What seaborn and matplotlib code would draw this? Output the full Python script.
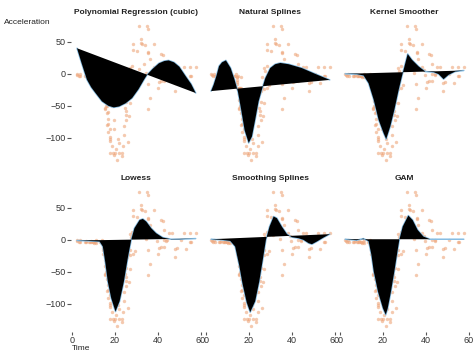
import matplotlib

matplotlib.use("Agg")
import matplotlib.pyplot as plt
import pandas as pd
import seaborn as sns

# motorcycle crash data (time in ms, head acceleration in g)
times = [
    2.4, 2.6, 3.2, 3.6, 4.0, 6.2, 6.6, 6.8, 7.8, 8.2, 8.8, 8.8, 9.6, 10.0, 10.2, 10.6, 11.0, 11.4, 13.2, 13.6,
    13.8, 14.6, 14.6, 14.6, 14.6, 14.6, 14.6, 14.8, 15.4, 15.4, 15.4, 15.4, 15.6, 15.6, 15.8, 15.8, 16.0, 16.0, 16.2, 16.2,
    16.2, 16.4, 16.4, 16.6, 16.8, 16.8, 16.8, 17.6, 17.6, 17.6, 17.6, 17.8, 17.8, 18.6, 18.6, 19.2, 19.4, 19.4, 19.6, 20.2,
    20.4, 21.2, 21.4, 21.8, 22.0, 23.2, 23.4, 24.0, 24.2, 24.2, 24.6, 25.0, 25.0, 25.4, 25.4, 25.6, 26.0, 26.2, 26.2, 26.4,
    27.0, 27.2, 27.2, 27.2, 27.6, 28.2, 28.4, 28.4, 28.6, 29.4, 30.2, 31.0, 31.2, 32.0, 32.0, 32.8, 33.4, 33.8, 34.4, 34.8,
    35.2, 35.2, 35.4, 35.6, 35.6, 36.2, 36.2, 38.0, 38.0, 39.2, 39.4, 40.0, 40.4, 41.6, 41.6, 42.4, 42.8, 42.8, 43.0, 44.0,
    44.4, 45.0, 46.6, 47.8, 47.8, 48.8, 50.6, 52.0, 53.2, 55.0, 55.0, 55.4, 57.6,
]
accel = [
    0.0, -1.3, -2.7, 0.0, -2.7, -2.7, -2.7, -1.3, -2.7, -2.7, -1.3, -2.7, -2.7, -2.7, -5.4, -2.7, -5.4, 0.0, -2.7, -2.7,
    0.0, -13.3, -5.4, -5.4, -9.3, -16.0, -22.8, -2.7, -22.8, -32.1, -53.5, -54.9, -40.2, -21.5, -21.5, -50.8, -42.9, -26.8, -21.5, -50.8,
    -61.7, -5.4, -80.4, -59.0, -71.0, -91.1, -77.7, -37.5, -85.6, -123.1, -101.9, -99.1, -104.4, -112.5, -50.8, -123.1, -85.6, -72.3, -127.2, -123.1,
    -117.9, -134.0, -101.9, -108.4, -123.1, -123.1, -128.5, -112.5, -95.1, -81.8, -53.5, -64.4, -57.6, -72.3, -44.3, -26.8, -5.4, -107.1, -21.5, -65.6,
    -16.0, -45.6, -24.2, 9.5, 4.0, 12.0, -21.5, 37.5, 46.9, -17.4, 36.2, 75.0, 8.1, 54.9, 48.2, 46.9, 16.0, 45.6, 1.3, 75.0,
    -16.0, -54.9, 69.6, 34.8, 32.1, -37.5, 22.8, 46.9, 10.7, 5.4, -1.3, -21.5, -13.3, 30.8, -10.7, 29.4, 0.0, -10.7, 14.7, -1.3,
    0.0, 10.7, 10.7, -26.8, -14.7, -13.3, 0.0, 10.7, -14.7, -2.7, 10.7, -2.7, 10.7,
]

# fitted curves
poly_t = [2.4, 4.5, 7.0, 9.0, 11.0, 14.0, 17.0, 19.5, 22.0, 25.0, 28.0, 31.0, 33.5, 35.0, 37.5, 40.5, 43.0, 45.0, 47.5, 50.0, 53.0, 55.5, 57.6]
poly_y = [40, 17, -9, -21, -30, -43, -50, -52.5, -51, -46, -38, -24, -9.5, -1.5, 7.5, 16.5, 20, 21, 18, 11, -4, -16, -30]

ns_t = [2.4, 3.6, 5.0, 6.1, 7.5, 9.3, 11.5, 13.3, 14.9, 16.4, 18.0, 19.9, 21.4, 22.9, 24.5, 26.0, 27.6, 29.9, 32.2, 34.6, 38.5, 44.6, 50.8, 57.6]
ns_y = [-27, -17, -2, 12, 18, 21, 9, -9, -28, -56, -88, -108, -98, -72, -43, -25, -7, 9, 15, 17, 15, 9, 0, -9.5]

ks_t = [2.4, 7.9, 11.0, 13.3, 15.7, 18.0, 20.3, 21.5, 23.4, 25.3, 27.3, 28.8, 29.6, 31.5, 33.5, 36.6, 39.7, 43.6, 45.9, 48.2, 50.5, 53.6, 57.6]
ks_y = [0, -0.5, -2.6, -14.6, -40.6, -72, -92.7, -102, -82, -56, -25, -4, 6.3, 31, 21.9, 11.5, 3.6, 2.6, -0.5, -8.3, -1.6, 3.6, 5.2]

lo_t = [2.4, 7.4, 12.9, 14.4, 15.5, 16.7, 18.3, 20.3, 22.2, 24.2, 26.0, 27.6, 29.1, 31.5, 33.0, 34.6, 36.9, 39.2, 42.3, 46.2, 50.0, 57.6]
lo_y = [-1, -1.6, -2.6, -10.4, -34, -65, -91, -112, -96, -65, -28.6, 0, 18.2, 31, 32.8, 28.6, 18.2, 10.4, 3.6, 1, 1, 2]

ss_t = [2.4, 7.4, 11.3, 13.6, 15.5, 17.0, 19.0, 20.6, 22.9, 24.8, 26.5, 27.9, 29.6, 31.5, 33.0, 35.3, 37.7, 40.0, 43.1, 45.4, 47.8, 49.3, 51.6, 54.7, 57.6]
ss_y = [1, 0, -1.6, -10.4, -40, -68, -98, -113, -96, -65, -30, 0, 20.8, 36.5, 33.9, 20.8, 8.9, 4.2, 2.6, 0, -5.2, -6.8, -2.6, 3.6, 8.9]

gam_t = [2.4, 7.8, 10.9, 13.3, 14.6, 15.7, 17.7, 20.0, 21.3, 22.2, 23.7, 25.3, 26.5, 27.6, 29.2, 31.8, 33.8, 36.1, 38.8, 41.9, 57.6]
gam_y = [1, -0.5, 2, -2, -23, -49, -81, -107, -117, -107, -81, -49, -23, 0, 20.8, 38, 31, 15.6, 5.2, 1, 1]

titles = ["Polynomial Regression (cubic)", "Natural Splines", "Kernel Smoother", "Lowess", "Smoothing Splines", "GAM"]
curves = [(poly_t, poly_y), (ns_t, ns_y), (ks_t, ks_y), (lo_t, lo_y), (ss_t, ss_y), (gam_t, gam_y)]
x_ticks = [0, 20, 40, 60]
y_ticks = [-100, -50, 0, 50]

sns.set_theme(style="white")
plt.rcParams["font.family"] = ["Liberation Sans", "DejaVu Sans"]

points = pd.DataFrame({"time": times, "accel": accel})

fig = plt.figure(figsize=(4.74, 3.55), dpi=100)
axes = fig.subplots(2, 3, sharex=True, sharey=True)
fig.subplots_adjust(left=0.150, right=0.991, top=0.946, bottom=0.064, wspace=0.027, hspace=0.129)

for i, ax in enumerate(axes.flat):
    sns.scatterplot(data=points, x="time", y="accel", ax=ax, s=6, color="#eea57a", alpha=0.6, linewidth=0)
    t, y = curves[i]
    sns.lineplot(x=t, y=y, sort=False, estimator=None, ax=ax, color="#86bde3", linewidth=1.1)
    ax.fill(t, y, facecolor="black", edgecolor="none", zorder=3)
    ax.set_title(titles[i], fontsize=6, fontweight="bold", pad=4, color="#222222")
    ax.set_xlabel("")
    ax.set_ylabel("")
    ax.set_xticks(x_ticks)
    ax.set_yticks(y_ticks)
    ax.tick_params(axis="y", labelsize=6.5, labelcolor="#333333", color="#555555", length=3, width=0.8, pad=1)
    ax.tick_params(axis="x", labelsize=6.5, labelcolor="#333333", color="#555555", length=2, width=0.8, pad=0.5)
    ax.tick_params(left=(i % 3 == 0), bottom=(i >= 3))
    sns.despine(ax=ax, left=True, bottom=True)

fig.text(4 / 474, 1 - 23 / 355, "Acceleration", fontsize=6, va="center", ha="left", color="#222222")
fig.text(72 / 474, 1 - 349 / 355, "Time", fontsize=6, va="center", ha="left", color="#222222")

fig.savefig("out.png", dpi=100)
plt.close(fig)
